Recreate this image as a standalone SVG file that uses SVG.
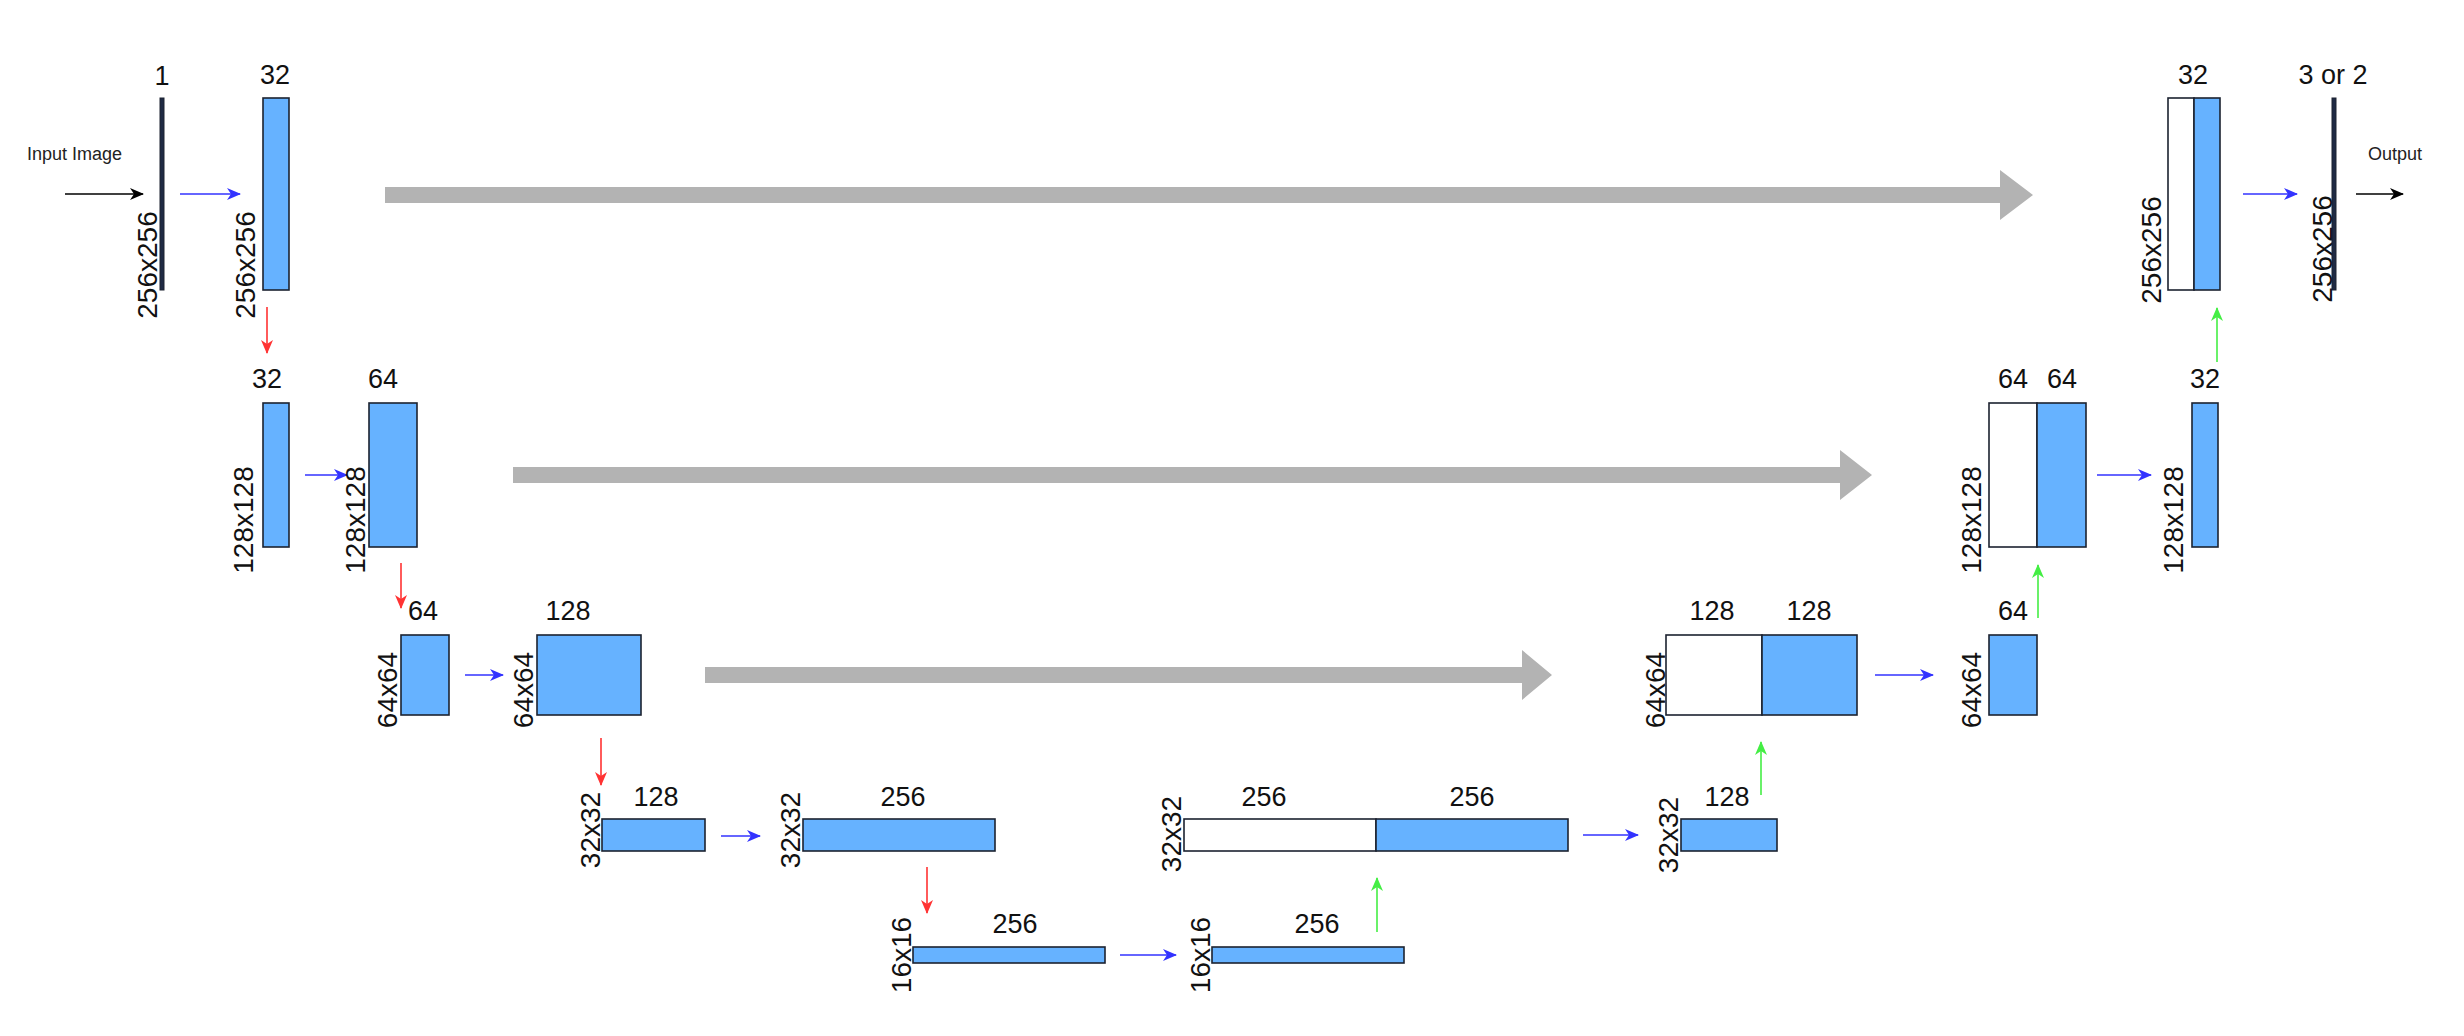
<svg xmlns="http://www.w3.org/2000/svg" width="2464" height="1036" viewBox="0 0 2464 1036">
<defs>
<style>
.t{font-family:"Liberation Sans",Arial,sans-serif;font-size:27px;fill:#111;text-anchor:middle}
.r{font-family:"Liberation Sans",Arial,sans-serif;font-size:28px;fill:#111;text-anchor:middle}
.s{font-family:"Liberation Sans",Arial,sans-serif;font-size:18px;fill:#222}
.b{fill:#66B2FF;stroke:#1c2230;stroke-width:1.6}
.w{fill:#ffffff;stroke:#1c2230;stroke-width:1.6}
.ln{fill:#1f2a44;stroke:#1c2230;stroke-width:1}
.cb{stroke:#3333ff;stroke-width:1.6;fill:none;marker-end:url(#mb)}
.cr{stroke:#ff3333;stroke-width:1.6;fill:none;marker-end:url(#mr)}
.cg{stroke:#44ee44;stroke-width:1.6;fill:none;marker-end:url(#mg)}
.ck{stroke:#000;stroke-width:1.6;fill:none;marker-end:url(#mk)}
.gr{fill:#B3B3B3}
</style>
<marker id="mb" markerUnits="userSpaceOnUse" markerWidth="14" markerHeight="12" refX="13" refY="6" orient="auto"><path d="M0,0 L14,6 L0,12 L4,6 Z" fill="#3333ff"/></marker>
<marker id="mr" markerUnits="userSpaceOnUse" markerWidth="14" markerHeight="12" refX="13" refY="6" orient="auto"><path d="M0,0 L14,6 L0,12 L4,6 Z" fill="#ff3333"/></marker>
<marker id="mg" markerUnits="userSpaceOnUse" markerWidth="14" markerHeight="12" refX="13" refY="6" orient="auto"><path d="M0,0 L14,6 L0,12 L4,6 Z" fill="#44ee44"/></marker>
<marker id="mk" markerUnits="userSpaceOnUse" markerWidth="14" markerHeight="12" refX="13" refY="6" orient="auto"><path d="M0,0 L14,6 L0,12 L4,6 Z" fill="#000"/></marker>
</defs>
<rect width="2464" height="1036" fill="#fff"/>

<g id="skips">
<polygon class="gr" points="385,187 2000,187 2000,170 2033,195 2000,220 2000,203 385,203"/>
<polygon class="gr" points="513,467 1840,467 1840,450 1872,475 1840,500 1840,483 513,483"/>
<polygon class="gr" points="705,667 1522,667 1522,650 1552,675 1522,700 1522,683 705,683"/>
</g>

<g id="connectors">
<line class="ck" x1="65" y1="194" x2="143" y2="194"/>
<line class="ck" x1="2356" y1="194" x2="2403" y2="194"/>
<line class="cb" x1="180" y1="194" x2="240" y2="194"/>
<line class="cb" x1="305" y1="475" x2="347" y2="475"/>
<line class="cb" x1="465" y1="675" x2="503" y2="675"/>
<line class="cb" x1="721" y1="836" x2="760" y2="836"/>
<line class="cb" x1="1120" y1="955" x2="1176" y2="955"/>
<line class="cb" x1="1583" y1="835" x2="1638" y2="835"/>
<line class="cb" x1="1875" y1="675" x2="1933" y2="675"/>
<line class="cb" x1="2097" y1="475" x2="2151" y2="475"/>
<line class="cb" x1="2243" y1="194" x2="2297" y2="194"/>
<line class="cr" x1="267" y1="307" x2="267" y2="353"/>
<line class="cr" x1="401" y1="563" x2="401" y2="608"/>
<line class="cr" x1="601" y1="738" x2="601" y2="785"/>
<line class="cr" x1="927" y1="867" x2="927" y2="913"/>
<line class="cg" x1="1377" y1="932" x2="1377" y2="878"/>
<line class="cg" x1="1761" y1="795" x2="1761" y2="742"/>
<line class="cg" x1="2038" y1="618" x2="2038" y2="565"/>
<line class="cg" x1="2217" y1="362" x2="2217" y2="308"/>
</g>

<g id="input">
<text class="s" x="27" y="160">Input Image</text>
<rect class="ln" x="160" y="98" width="4" height="192"/>
<text class="t" x="162" y="85">1</text>
<text class="r" transform="translate(157,265) rotate(-90)">256x256</text>
</g>
<g id="enc1a">
<rect class="b" x="263" y="98" width="26" height="192"/>
<text class="t" x="275" y="84">32</text>
<text class="r" transform="translate(255,265) rotate(-90)">256x256</text>
</g>

<g id="enc2a">
<rect class="b" x="263" y="403" width="26" height="144"/>
<text class="t" x="267" y="388">32</text>
<text class="r" transform="translate(253,520) rotate(-90)">128x128</text>
</g>
<g id="enc2b">
<rect class="b" x="369" y="403" width="48" height="144"/>
<text class="t" x="383" y="388">64</text>
<text class="r" transform="translate(365,520) rotate(-90)">128x128</text>
</g>

<g id="enc3a">
<rect class="b" x="401" y="635" width="48" height="80"/>
<text class="t" x="423" y="620">64</text>
<text class="r" transform="translate(397,690) rotate(-90)">64x64</text>
</g>
<g id="enc3b">
<rect class="b" x="537" y="635" width="104" height="80"/>
<text class="t" x="568" y="620">128</text>
<text class="r" transform="translate(533,690) rotate(-90)">64x64</text>
</g>

<g id="enc4a">
<rect class="b" x="602" y="819" width="103" height="32"/>
<text class="t" x="656" y="806">128</text>
<text class="r" transform="translate(600,830) rotate(-90)">32x32</text>
</g>
<g id="enc4b">
<rect class="b" x="803" y="819" width="192" height="32"/>
<text class="t" x="903" y="806">256</text>
<text class="r" transform="translate(800,830) rotate(-90)">32x32</text>
</g>

<g id="bott1">
<rect class="b" x="913" y="947" width="192" height="16"/>
<text class="t" x="1015" y="933">256</text>
<text class="r" transform="translate(911,955) rotate(-90)">16x16</text>
</g>
<g id="bott2">
<rect class="b" x="1212" y="947" width="192" height="16"/>
<text class="t" x="1317" y="933">256</text>
<text class="r" transform="translate(1210,955) rotate(-90)">16x16</text>
</g>

<g id="dec4cat">
<rect class="w" x="1184" y="819" width="192" height="32"/>
<rect class="b" x="1376" y="819" width="192" height="32"/>
<text class="t" x="1264" y="806">256</text>
<text class="t" x="1472" y="806">256</text>
<text class="r" transform="translate(1181,834) rotate(-90)">32x32</text>
</g>
<g id="dec4">
<rect class="b" x="1681" y="819" width="96" height="32"/>
<text class="t" x="1727" y="806">128</text>
<text class="r" transform="translate(1678,835) rotate(-90)">32x32</text>
</g>

<g id="dec3cat">
<rect class="w" x="1666" y="635" width="96" height="80"/>
<rect class="b" x="1762" y="635" width="95" height="80"/>
<text class="t" x="1712" y="620">128</text>
<text class="t" x="1809" y="620">128</text>
<text class="r" transform="translate(1665,690) rotate(-90)">64x64</text>
</g>
<g id="dec3">
<rect class="b" x="1989" y="635" width="48" height="80"/>
<text class="t" x="2013" y="620">64</text>
<text class="r" transform="translate(1981,690) rotate(-90)">64x64</text>
</g>

<g id="dec2cat">
<rect class="w" x="1989" y="403" width="48" height="144"/>
<rect class="b" x="2037" y="403" width="49" height="144"/>
<text class="t" x="2013" y="388">64</text>
<text class="t" x="2062" y="388">64</text>
<text class="r" transform="translate(1981,520) rotate(-90)">128x128</text>
</g>
<g id="dec2">
<rect class="b" x="2192" y="403" width="26" height="144"/>
<text class="t" x="2205" y="388">32</text>
<text class="r" transform="translate(2183,520) rotate(-90)">128x128</text>
</g>

<g id="dec1cat">
<rect class="w" x="2168" y="98" width="26" height="192"/>
<rect class="b" x="2194" y="98" width="26" height="192"/>
<text class="t" x="2193" y="84">32</text>
<text class="r" transform="translate(2161,250) rotate(-90)">256x256</text>
</g>
<g id="output">
<rect class="ln" x="2332" y="98" width="4" height="192"/>
<text class="t" x="2333" y="84">3 or 2</text>
<text class="r" transform="translate(2332,249) rotate(-90)">256x256</text>
<text class="s" x="2368" y="160">Output</text>
</g>
</svg>
